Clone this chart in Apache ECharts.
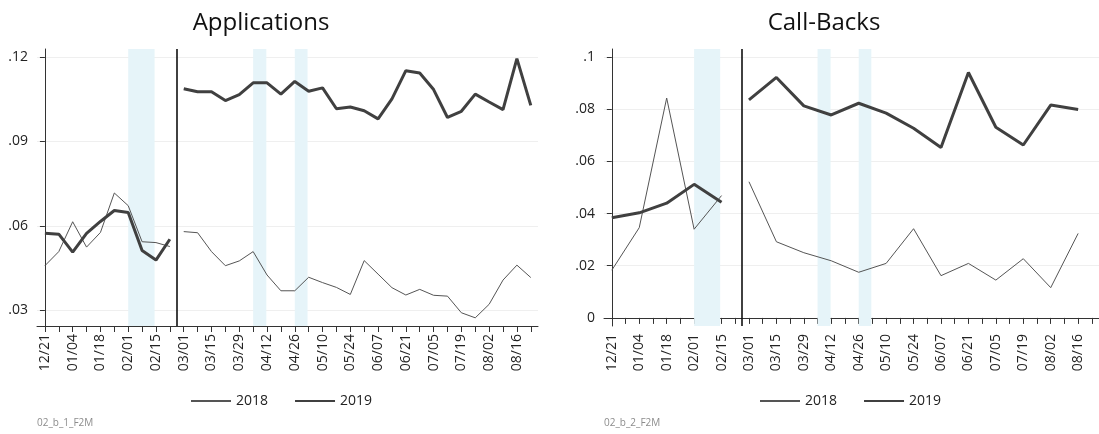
<!DOCTYPE html>
<html>
<head>
<meta charset="utf-8">
<script src="https://cdn.jsdelivr.net/npm/echarts@6/dist/echarts.min.js"></script>
<style>
html,body{margin:0;padding:0;background:#fff;}
#chart{width:1099px;height:434px;}
</style>
</head>
<body>
<div id="chart"></div>
<script>
// Weekly dates (x axis)
const weeks = ['12/21','12/28','01/04','01/11','01/18','01/25','02/01','02/08','02/15','02/22',
  '03/01','03/08','03/15','03/22','03/29','04/05','04/12','04/19','04/26','05/03',
  '05/10','05/17','05/24','05/31','06/07','06/14','06/21','06/28','07/05','07/12',
  '07/19','07/26','08/02','08/09','08/16','08/23'];
const labelWeeks = ['12/21','01/04','01/18','02/01','02/15','03/01','03/15','03/29','04/12','04/26',
  '05/10','05/24','06/07','06/21','07/05','07/19','08/02','08/16'];

// Applications (weekly)
const appPreDates = ['12/21','12/28','01/04','01/11','01/18','01/25','02/01','02/08','02/15','02/22'];
const appPostDates = ['03/01','03/08','03/15','03/22','03/29','04/05','04/12','04/19','04/26','05/03',
  '05/10','05/17','05/24','05/31','06/07','06/14','06/21','06/28','07/05','07/12',
  '07/19','07/26','08/02','08/09','08/16','08/23'];
const app2018Pre = [0.0459,0.0509,0.0615,0.0525,0.0577,0.0717,0.0672,0.0544,0.0541,0.0527];
const app2018Post = [0.0580,0.0576,0.0509,0.0459,0.0476,0.0509,0.0426,0.0370,0.0370,0.0418,
  0.0399,0.0382,0.0357,0.0477,0.0429,0.0381,0.0355,0.0375,0.0354,0.0351,
  0.0292,0.0274,0.0322,0.0408,0.0461,0.0417];
const app2019Pre = [0.0574,0.0571,0.0507,0.0574,0.0616,0.0655,0.0648,0.0513,0.0479,0.0553];
const app2019Post = [0.1087,0.1076,0.1076,0.1045,0.1066,0.1108,0.1108,0.1068,0.1113,0.1078,
  0.1090,0.1016,0.1022,0.1009,0.0980,0.1051,0.1151,0.1143,0.1084,0.0985,
  0.1007,0.1068,0.1040,0.1013,0.1194,0.1028];

// Call-Backs (biweekly)
const cbPreDates = ['12/21','01/04','01/18','02/01','02/15'];
const cbPostDates = ['03/01','03/15','03/29','04/12','04/26','05/10','05/24','06/07','06/21','07/05','07/19','08/02','08/16'];
const cb2018Pre = [0.0183,0.0346,0.0843,0.0340,0.0469];
const cb2018Post = [0.0522,0.0292,0.0250,0.0219,0.0175,0.0209,0.0342,0.0162,0.0209,0.0145,0.0227,0.0116,0.0324];
const cb2019Pre = [0.0384,0.0403,0.0440,0.0512,0.0443];
const cb2019Post = [0.0836,0.0922,0.0813,0.0778,0.0823,0.0785,0.0727,0.0653,0.0941,0.0731,0.0663,0.0816,0.0799];

// Y ticks
const appTicks = [0.03,0.06,0.09,0.12];
const cbTicks = [0,0.02,0.04,0.06,0.08,0.1];

// Shaded holiday weeks [start date, length in weeks]
const shaded = [['02/01',1.9],['04/05',0.95],['04/26',0.92]];
const breakBetween = ['02/22','03/01'];

const FONT = 'Open Sans';
const idx = d => weeks.indexOf(d);
const pairs = (dates, vals) => dates.map((d,i)=>[idx(d), vals[i]]);
const fmtY = v => (v === 0 ? '0' : String(+v.toFixed(3)).replace(/^0\./,'.'));

function xAxis(gridIndex){
  return {
    type:'value', gridIndex, min:-0.57, max:35.52,
    axisLine:{show:true, lineStyle:{color:'#333', width:1}},
    axisTick:{show:true, length:6, lineStyle:{color:'#333'}, customValues: weeks.map((d,i)=>i)},
    axisLabel:{show:true, rotate:90, margin:8, fontSize:14, fontFamily:FONT, color:'#222',
      customValues: labelWeeks.map(idx), formatter: v => weeks[Math.round(v)]},
    splitLine:{show:false}
  };
}
function yAxis(gridIndex, min, max, ticks){
  return {
    type:'value', gridIndex, min, max,
    axisLine:{show:true, lineStyle:{color:'#333', width:1}},
    axisTick:{show:true, length:5, lineStyle:{color:'#333'}, customValues: ticks},
    axisLabel:{show:true, margin:9, fontSize:14, fontFamily:FONT, color:'#222',
      customValues: ticks, formatter: fmtY},
    splitLine:{show:true, lineStyle:{color:'#efefef', width:1}}
  };
}
const thin = {color:'#555', width:1};
const thick = {color:'#404040', width:3};
function line(name, data, gi, style, extra){
  return Object.assign({
    type:'line', name, data, xAxisIndex:gi, yAxisIndex:gi,
    symbol:'none', showSymbol:false, lineStyle:style, itemStyle:{color:style.color},
    animation:false, silent:true, z:3
  }, extra||{});
}
const bk = (idx(breakBetween[0]) + idx(breakBetween[1]))/2;
const marks = {
  markLine:{silent:true, symbol:['none','none'], label:{show:false},
    lineStyle:{color:'#111', width:1.6, type:'solid'}, data:[{xAxis:bk}], animation:false},
  markArea:{silent:true, itemStyle:{color:'#e6f4f9'},
    data: shaded.map(s=>[{xAxis:idx(s[0])},{xAxis:idx(s[0])+s[1]}]), animation:false}
};
const legendBase = {top:389, itemWidth:40, itemHeight:12, itemGap:26,
  itemStyle:{color:'rgba(0,0,0,0)', borderWidth:0, opacity:0},
  textStyle:{fontSize:14, fontFamily:FONT, color:'#222'}, data:['2018','2019'], selectedMode:false};

const option = {
  animation:false,
  backgroundColor:'#fff',
  grid:[
    {left:37, top:49, width:501, height:277},
    {left:604, top:49, width:501, height:277}
  ],
  xAxis:[xAxis(0), xAxis(1)],
  yAxis:[yAxis(0, 0.0245, 0.1228, appTicks), yAxis(1, -0.0031, 0.1031, cbTicks)],
  legend:[
    Object.assign({left:185}, legendBase),
    Object.assign({left:754}, legendBase)
  ],
  series:[
    line('2018', pairs(appPreDates, app2018Pre), 0, thin, marks),
    line('2018', pairs(appPostDates, app2018Post), 0, thin),
    line('2019', pairs(appPreDates, app2019Pre), 0, thick),
    line('2019', pairs(appPostDates, app2019Post), 0, thick),
    line('2018', pairs(cbPreDates, cb2018Pre), 1, thin, marks),
    line('2018', pairs(cbPostDates, cb2018Post), 1, thin),
    line('2019', pairs(cbPreDates, cb2019Pre), 1, thick),
    line('2019', pairs(cbPostDates, cb2019Post), 1, thick)
  ],
  graphic:[
    {type:'text', x:261, y:23, style:{text:'Applications', align:'center', verticalAlign:'middle',
      font:'24px "Open Sans"', fill:'#111'}},
    {type:'text', x:824, y:23, style:{text:'Call-Backs', align:'center', verticalAlign:'middle',
      font:'24px "Open Sans"', fill:'#111'}},
    {type:'text', x:37, y:423, style:{text:'02_b_1_F2M', align:'left', verticalAlign:'middle',
      font:'10px "Open Sans"', fill:'#8c8c8c'}},
    {type:'text', x:604, y:423, style:{text:'02_b_2_F2M', align:'left', verticalAlign:'middle',
      font:'10px "Open Sans"', fill:'#8c8c8c'}}
  ]
};
const chart = echarts.init(document.getElementById('chart'), null, {renderer:'canvas'});
chart.setOption(option);
</script>
</body>
</html>
